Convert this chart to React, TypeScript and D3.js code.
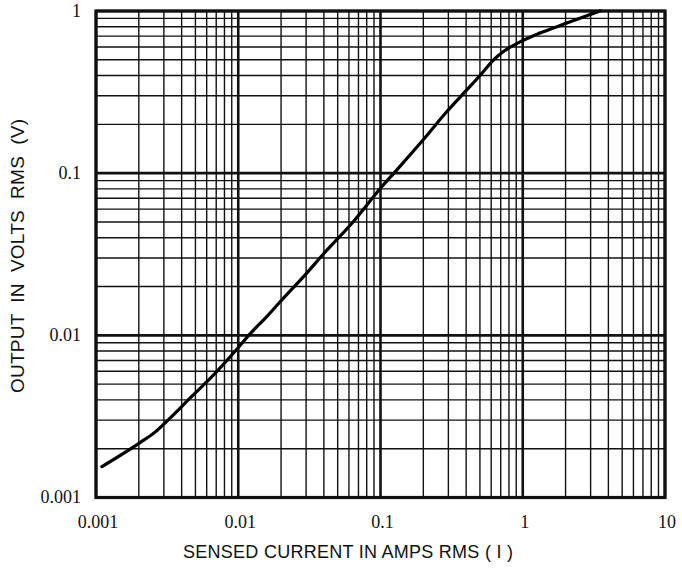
import React from "react";
import * as d3 from "d3";

const currentAmps = [0.0011, 0.00204, 0.0026, 0.00314, 0.00481, 0.00632, 0.00995, 0.0121, 0.0158, 0.0197, 0.0303, 0.0394, 0.0641, 0.102, 0.13, 0.199, 0.292, 0.403, 0.526, 0.605, 0.727, 0.957, 1.32, 2.04, 3.49];
const outputVolts = [0.00155, 0.00218, 0.00253, 0.00295, 0.00428, 0.0054, 0.00836, 0.0102, 0.013, 0.0161, 0.0242, 0.0315, 0.05, 0.0824, 0.1045, 0.16, 0.239, 0.325, 0.421, 0.486, 0.56, 0.645, 0.731, 0.842, 1.0];

const xTickLabels = ["0.001", "0.01", "0.1", "1", "10"];
const yTickLabels = ["0.001", "0.01", "0.1", "1"];

const xTitle = "SENSED CURRENT IN AMPS RMS ( I )";
const yTitle = "OUTPUT  IN  VOLTS  RMS  (V)";

const W = 682;
const H = 569;
const M = { left: 96, right: 17, top: 11, bottom: 71.5 };

export default function App() {
  const x = d3.scaleLog().domain([0.001, 10]).range([M.left, W - M.right]);
  const y = d3.scaleLog().domain([0.001, 1]).range([H - M.bottom, M.top]);

  const xMinor: number[] = [];
  for (let e = -3; e < 1; e++) for (let k = 2; k <= 9; k++) xMinor.push(k * Math.pow(10, e));
  const yMinor: number[] = [];
  for (let e = -3; e < 0; e++) for (let k = 2; k <= 9; k++) yMinor.push(k * Math.pow(10, e));
  const xMajor = xTickLabels.map(Number);
  const yMajor = yTickLabels.map(Number);

  const pts = currentAmps.map((c, i) => [x(c), y(outputVolts[i])] as [number, number]);
  const line = d3.line().curve(d3.curveMonotoneX)(pts) || "";

  const [x0, x1] = x.range();
  const [y1, y0] = y.range();
  const stroke = "#111";

  return (
    <div style={{ position: "absolute", left: 0, top: 0 }}>
      <svg width={W} height={H} style={{ display: "block", background: "#fff" }}>
        <rect x={0} y={0} width={W} height={H} fill="#fff" />
        {xMinor.map((v) => (
          <line key={"xm" + v} x1={x(v)} x2={x(v)} y1={y0} y2={y1} stroke={stroke} strokeWidth={1.4} />
        ))}
        {yMinor.map((v) => (
          <line key={"ym" + v} x1={x0} x2={x1} y1={y(v)} y2={y(v)} stroke={stroke} strokeWidth={1.4} />
        ))}
        {xMajor.map((v) => (
          <line key={"xM" + v} x1={x(v)} x2={x(v)} y1={y0} y2={y1} stroke={stroke} strokeWidth={2.6} />
        ))}
        {yMajor.map((v) => (
          <line key={"yM" + v} x1={x0} x2={x1} y1={y(v)} y2={y(v)} stroke={stroke} strokeWidth={2.6} />
        ))}
        <rect x={x0} y={y0} width={x1 - x0} height={y1 - y0} fill="none" stroke={stroke} strokeWidth={3.2} />
        <path d={line} fill="none" stroke="#000" strokeWidth={3.2} strokeLinejoin="round" strokeLinecap="round" />
        {xTickLabels.map((t) => (
          <text key={"xt" + t} x={x(Number(t)) + 2} y={528} textAnchor="middle" fontFamily="'Liberation Serif', 'Times New Roman', serif" fontSize={18} fill="#111">
            {t}
          </text>
        ))}
        {yTickLabels.map((t) => (
          <text key={"yt" + t} x={81} y={y(Number(t))} dy="0.33em" textAnchor="end" fontFamily="'Liberation Serif', 'Times New Roman', serif" fontSize={18} fill="#111">
            {t}
          </text>
        ))}
        <text x={348} y={558} textAnchor="middle" fontFamily="'Liberation Sans', Arial, sans-serif" fontSize={18} fill="#111" textLength={330} lengthAdjust="spacing">
          {xTitle}
        </text>
        <text
          transform={`translate(24, 256) rotate(-90)`}
          textAnchor="middle"
          fontFamily="'Liberation Sans', Arial, sans-serif"
          fontSize={19}
          fill="#111"
          textLength={274}
          lengthAdjust="spacing"
          style={{ whiteSpace: "pre" }}
        >
          {yTitle}
        </text>
      </svg>
    </div>
  );
}
